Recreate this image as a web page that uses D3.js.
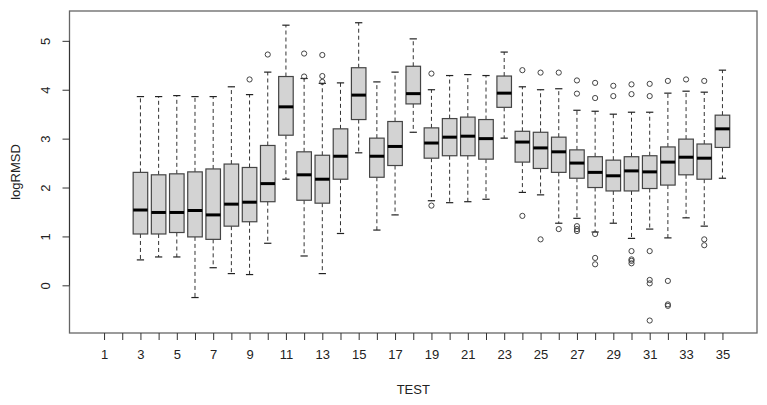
<!DOCTYPE html>
<html>
<head>
<meta charset="utf-8">
<script src="https://cdn.jsdelivr.net/npm/d3@7"></script>
<style>
  body { margin: 0; background: #fff; }
  svg { display: block; font-family: "Liberation Sans", Arial, sans-serif; }
</style>
</head>
<body>
<div id="chart"></div>
<script>
// groups 1..35, the first two are empty
const tests = d3.range(1, 36);
const firstWithData = 3;

// box stats for tests 3..35
const lowWhisker = [0.52, 0.58, 0.58, -0.25, 0.36, 0.24, 0.22, 0.86, 2.17, 0.60, 0.24, 1.06, 2.71, 1.13, 1.44, 3.13,
  1.73, 1.69, 1.71, 1.76, 3.01, 1.90, 1.85, 1.27, 1.37, 1.09, 1.27, 0.96, 1.15, 0.97, 1.38, 1.21, 2.19];
const q1 = [1.05, 1.05, 1.08, 0.99, 0.94, 1.21, 1.30, 1.71, 3.07, 1.74, 1.68, 2.17, 3.39, 2.21, 2.45, 3.71,
  2.60, 2.65, 2.65, 2.58, 3.64, 2.52, 2.39, 2.31, 2.19, 2.00, 1.93, 1.93, 1.98, 2.05, 2.26, 2.17, 2.82];
const medians = [1.54, 1.49, 1.49, 1.53, 1.44, 1.66, 1.70, 2.08, 3.65, 2.26, 2.17, 2.64, 3.89, 2.64, 2.84, 3.92,
  2.91, 3.03, 3.05, 3.00, 3.93, 2.93, 2.81, 2.73, 2.50, 2.31, 2.24, 2.34, 2.32, 2.52, 2.62, 2.60, 3.20];
const q3 = [2.31, 2.26, 2.28, 2.32, 2.38, 2.48, 2.41, 2.86, 4.27, 2.73, 2.66, 3.20, 4.45, 3.01, 3.35, 4.48,
  3.22, 3.41, 3.44, 3.39, 4.28, 3.15, 3.13, 3.03, 2.77, 2.63, 2.56, 2.63, 2.65, 2.83, 2.99, 2.89, 3.48];
const highWhisker = [3.86, 3.86, 3.88, 3.86, 3.86, 4.06, 3.90, 4.36, 5.32, 4.23, 4.13, 4.14, 5.37, 4.16, 4.36, 5.04,
  4.00, 4.29, 4.31, 4.29, 4.77, 4.06, 4.00, 4.02, 3.58, 3.56, 3.50, 3.54, 3.54, 3.93, 3.97, 3.95, 4.40];
const outliers = [
  [], [], [], [], [], [], [4.21], [4.72], [], [4.27, 4.74], [4.16, 4.28, 4.71], [], [], [], [], [],
  [4.33, 1.63], [], [], [], [], [4.40, 1.42], [4.35, 0.94], [4.35, 1.15],
  [4.19, 3.92, 1.21, 1.15, 1.11], [4.14, 3.83, 1.05, 0.56, 0.43], [4.08, 3.87],
  [4.11, 3.91, 0.70, 0.53, 0.50, 0.45], [4.12, 3.87, 0.70, 0.11, 0.04, -0.72],
  [4.18, 0.09, -0.39, -0.42], [4.21], [4.18, 0.94, 0.82], []
];
const yTicks = [0, 1, 2, 3, 4, 5];

const boxes = medians.map((m, i) => ({
  test: i + firstWithData,
  lo: lowWhisker[i], q1: q1[i], med: m, q3: q3[i], hi: highWhisker[i],
  out: outliers[i]
}));

const width = 767, height = 405;
const plot = { left: 69.5, right: 757, top: 11, bottom: 333 };

const svg = d3.select("#chart").append("svg")
  .attr("width", width)
  .attr("height", height);

// R style 4% padding around 0.5..35.5
const x = d3.scaleLinear().domain([-0.9, 36.9]).range([plot.left, plot.right]);
const y = d3.scaleLinear().domain([-0.975, 5.61]).range([plot.bottom, plot.top]);

const step = x(2) - x(1);
const boxW = step * 0.8;
const capW = boxW * 0.5;

const g = svg.append("g");
const groups = g.selectAll("g.box").data(boxes).enter().append("g").attr("class", "box");

// whiskers (dashed)
groups.append("line")
  .attr("x1", d => x(d.test)).attr("x2", d => x(d.test))
  .attr("y1", d => y(d.q3)).attr("y2", d => y(d.hi))
  .attr("stroke", "#333").attr("stroke-dasharray", "4,3");
groups.append("line")
  .attr("x1", d => x(d.test)).attr("x2", d => x(d.test))
  .attr("y1", d => y(d.q1)).attr("y2", d => y(d.lo))
  .attr("stroke", "#333").attr("stroke-dasharray", "4,3");

// caps
["hi", "lo"].forEach(k => {
  groups.append("line")
    .attr("x1", d => x(d.test) - capW / 2).attr("x2", d => x(d.test) + capW / 2)
    .attr("y1", d => y(d[k])).attr("y2", d => y(d[k]))
    .attr("stroke", "#222").attr("stroke-width", 1.2);
});

// boxes
groups.append("rect")
  .attr("x", d => x(d.test) - boxW / 2)
  .attr("y", d => y(d.q3))
  .attr("width", boxW)
  .attr("height", d => y(d.q1) - y(d.q3))
  .attr("fill", "#d3d3d3")
  .attr("stroke", "#444")
  .attr("stroke-width", 1.2);

// medians
groups.append("line")
  .attr("x1", d => x(d.test) - boxW / 2).attr("x2", d => x(d.test) + boxW / 2)
  .attr("y1", d => y(d.med)).attr("y2", d => y(d.med))
  .attr("stroke", "#000").attr("stroke-width", 3);

// outliers
groups.selectAll("circle").data(d => d.out.map(v => ({ test: d.test, v }))).enter().append("circle")
  .attr("cx", d => x(d.test))
  .attr("cy", d => y(d.v))
  .attr("r", 2.6)
  .attr("fill", "none")
  .attr("stroke", "#444")
  .attr("stroke-width", 1);

// frame
svg.append("rect")
  .attr("x", plot.left).attr("y", plot.top)
  .attr("width", plot.right - plot.left)
  .attr("height", plot.bottom - plot.top)
  .attr("fill", "none")
  .attr("stroke", "#666")
  .attr("stroke-width", 1.3);

// x axis
const xAxis = svg.append("g")
  .attr("transform", `translate(0,${plot.bottom})`)
  .call(d3.axisBottom(x).tickValues(tests).tickSize(7).tickSizeOuter(0)
    .tickFormat(d => d % 2 === 1 ? d : ""));
xAxis.select(".domain").remove();
xAxis.selectAll(".tick line").attr("stroke", "#333");
xAxis.selectAll(".tick text")
  .attr("y", 17)
  .attr("fill", "#222")
  .style("font-size", "13px");

// y axis
const yAxis = svg.append("g")
  .attr("transform", `translate(${plot.left},0)`)
  .call(d3.axisLeft(y).tickValues(yTicks).tickSize(7).tickSizeOuter(0).tickFormat(d3.format("d")));
yAxis.select(".domain")
  .attr("d", `M0,${y(0)}V${y(5)}`)
  .attr("stroke", "#333");
yAxis.selectAll(".tick line").attr("stroke", "#333");
yAxis.selectAll(".tick text")
  .attr("x", 0).attr("dy", 0)
  .attr("transform", "translate(-20,0) rotate(-90)")
  .attr("text-anchor", "middle")
  .attr("fill", "#222")
  .style("font-size", "13px");

// titles
svg.append("text")
  .attr("x", (plot.left + plot.right) / 2)
  .attr("y", 394)
  .attr("text-anchor", "middle")
  .attr("fill", "#222")
  .style("font-size", "13px")
  .text("TEST");

svg.append("text")
  .attr("transform", `translate(19.5,${(plot.top + plot.bottom) / 2}) rotate(-90)`)
  .attr("text-anchor", "middle")
  .attr("fill", "#222")
  .style("font-size", "13px")
  .text("logRMSD");
</script>
</body>
</html>
